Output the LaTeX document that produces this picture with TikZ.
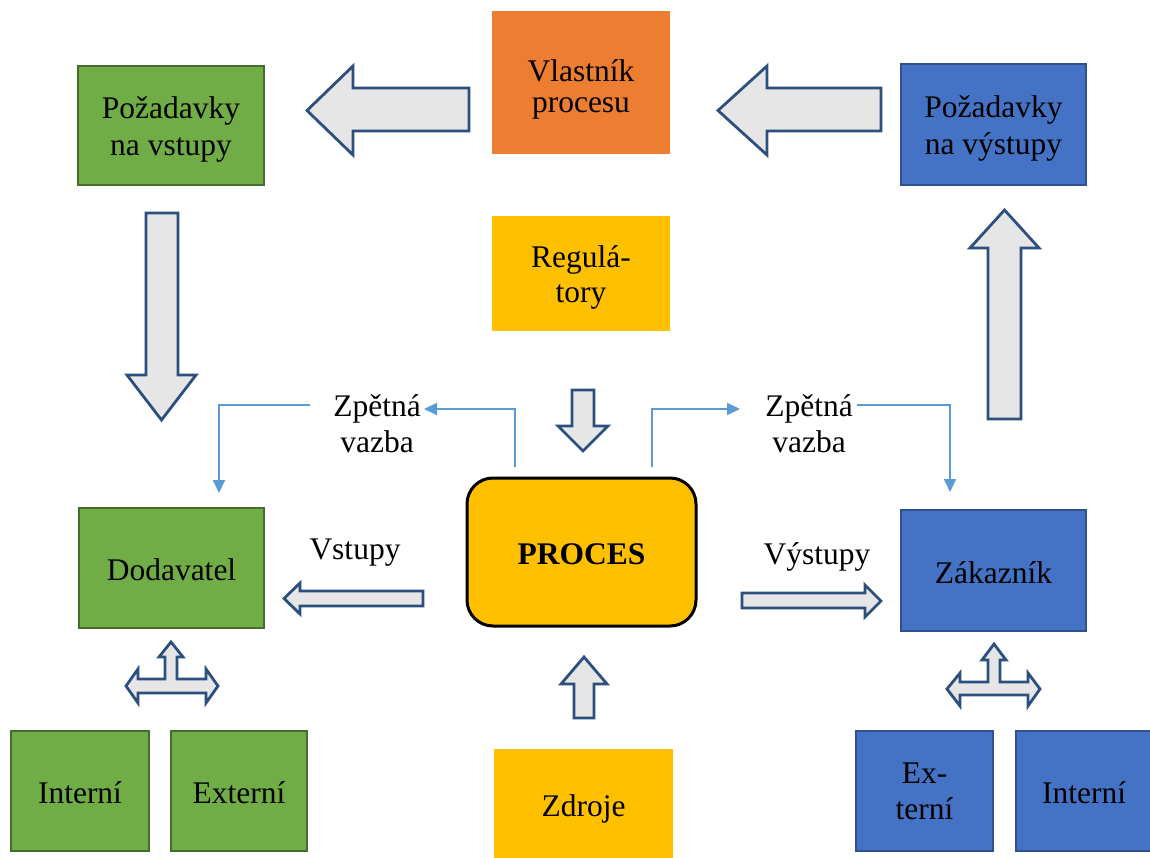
\documentclass[tikz,border=0pt]{standalone}
\usepackage{fontspec}
\setmainfont{Liberation Serif}
\usetikzlibrary{arrows.meta}

\definecolor{grfill}{HTML}{70AD47}
\definecolor{grline}{HTML}{466D2D}
\definecolor{blfill}{HTML}{4472C4}
\definecolor{blline}{HTML}{2F528F}
\definecolor{orfill}{HTML}{ED7D31}
\definecolor{yefill}{HTML}{FFC000}
\definecolor{arfill}{HTML}{E7E6E6}
\definecolor{arline}{HTML}{2B4F7E}
\definecolor{fbline}{HTML}{5B9BD5}

% strut that sets the height of the first text line in a box
\newcommand{\topstrut}[1]{\rule{0pt}{#1}}

\tikzset{
  txt/.style={font=\fontsize{31.5}{36}\selectfont, align=center, inner sep=0pt},
  lines/.style={font=\fontsize{31.5}{#1}\selectfont},
  oneline/.style={text height=25pt, text depth=0pt},
  box/.style={txt, rectangle},
  greenbox/.style={box, fill=grfill, draw=grline, line width=2.5pt},
  bluebox/.style={box, fill=blfill, draw=blline, line width=2.5pt},
  orangebox/.style={box, fill=orfill},
  yellowbox/.style={box, fill=yefill},
  procbox/.style={box, fill=yefill, draw=black, line width=3pt, rounded corners=26pt, font=\fontsize{31.5}{36}\selectfont\bfseries},
  blockarrow/.style={fill=arfill, draw=arline, line width=2.8pt, line join=miter},
  fb/.style={draw=fbline, line width=2pt, -{Triangle[length=13pt,width=12pt]}},
}

\begin{document}
\begin{tikzpicture}[x=1pt,y=-1pt]
\useasboundingbox (0,0) rectangle (1150,858);

% boxes
\node[greenbox, lines=37, minimum width=186pt, minimum height=119pt] (pin) at (171,125.5) {\topstrut{30pt}Požadavky\\na vstupy};
\node[orangebox, lines=31, minimum width=178pt, minimum height=143pt] (owner) at (581,82.5) {\topstrut{35pt}Vlastník\\procesu};
\node[bluebox, lines=37, minimum width=185pt, minimum height=121pt] (pout) at (993.5,124.5) {\topstrut{30pt}Požadavky\\na výstupy};
\node[yellowbox, lines=35, minimum width=178pt, minimum height=115pt] (reg) at (581,273.5) {\topstrut{29pt}Regulá-\\tory};
\node[greenbox, oneline, minimum width=185pt, minimum height=120pt] (sup) at (171.5,568) {Dodavatel};
\node[procbox, oneline, minimum width=229pt, minimum height=148pt] (proc) at (581.5,552) {PROCES};
\node[bluebox, oneline, minimum width=185pt, minimum height=121pt] (cust) at (993.5,570.5) {Zákazník};
\node[greenbox, oneline, minimum width=138pt, minimum height=120pt] (intL) at (80,791) {Interní};
\node[greenbox, oneline, minimum width=136pt, minimum height=120pt] (extL) at (239,791) {Externí};
\node[yellowbox, oneline, minimum width=179pt, minimum height=109pt] (res) at (583.5,803.5) {Zdroje};
\node[bluebox, minimum width=137pt, minimum height=120pt] (extR) at (924.5,791) {Ex-\\terní};
\node[bluebox, oneline, minimum width=136pt, minimum height=120pt] (intR) at (1084,791) {Interní};

% labels
\node[txt, oneline] (inLbl) at (355,547) {Vstupy};
\node[txt, oneline] (outLbl) at (817,552) {Výstupy};
\node[txt] (fbL) at (377,424) {Zpětná\\vazba};
\node[txt] (fbR) at (809,424) {Zpětná\\vazba};

% block arrows
\draw[blockarrow] (469,88) -- (353,88) -- (353,66) -- (307,110.5) -- (353,155) -- (353,131) -- (469,131) -- cycle;
\draw[blockarrow] (881,88) -- (767,88) -- (767,66) -- (718,110.5) -- (767,155) -- (767,131) -- (881,131) -- cycle;
\draw[blockarrow] (146,213) -- (178,213) -- (178,375) -- (196,375) -- (161.5,420) -- (127,375) -- (146,375) -- cycle;
\draw[blockarrow] (988,419) -- (1021,419) -- (1021,248) -- (1039,248) -- (1004.5,210) -- (970,248) -- (988,248) -- cycle;
\draw[blockarrow] (572,390) -- (594,390) -- (594,426) -- (608,426) -- (583,451) -- (558,426) -- (572,426) -- cycle;
\draw[blockarrow] (574,718) -- (594,718) -- (594,684) -- (607,684) -- (584,657) -- (561,684) -- (574,684) -- cycle;
\draw[blockarrow] (423,591) -- (300,591) -- (300,583) -- (284,598.5) -- (300,614) -- (300,606) -- (423,606) -- cycle;
\draw[blockarrow] (742,593) -- (865,593) -- (865,585) -- (881,601) -- (865,617) -- (865,608) -- (742,608) -- cycle;

% branching arrows under Dodavatel and Zákazník
\draw[blockarrow] (165,679) -- (165,657) -- (159,657) -- (171,642) -- (183,657) -- (177,657) -- (177,679)
  -- (206,679) -- (206,669) -- (218,686) -- (206,703) -- (206,693) -- (138,693) -- (138,703) -- (126,686)
  -- (138,669) -- (138,679) -- cycle;
\draw[blockarrow] (988,682) -- (988,660) -- (982,660) -- (994,644) -- (1006,660) -- (1000,660) -- (1000,682)
  -- (1028,682) -- (1028,673) -- (1040,689) -- (1028,706) -- (1028,695) -- (960,695) -- (960,706) -- (947,689)
  -- (960,673) -- (960,682) -- cycle;

% feedback connectors
\coordinate (fbLsrc) at (515,467);
\coordinate (fbLin) at (424,409);
\coordinate (fbLout) at (310,405);
\coordinate (fbLdst) at (219,493);
\coordinate (fbRsrc) at (652,467);
\coordinate (fbRin) at (740,409);
\coordinate (fbRout) at (857,405);
\coordinate (fbRdst) at (950,492);
\draw[fb] (fbLsrc) |- (fbLin);
\draw[fb] (fbLout) -| (fbLdst);
\draw[fb] (fbRsrc) |- (fbRin);
\draw[fb] (fbRout) -| (fbRdst);
\end{tikzpicture}
\end{document}
